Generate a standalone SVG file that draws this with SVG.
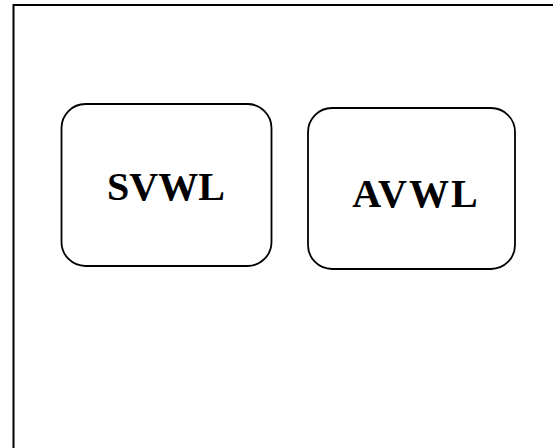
<svg xmlns="http://www.w3.org/2000/svg" width="553" height="448" viewBox="0 0 553 448">
  <style>
    .frame { fill: #ffffff; stroke: #000000; stroke-width: 2; }
    .box { fill: #ffffff; stroke: #000000; stroke-width: 1.8; }
    .label { font-family: "Liberation Serif", "Times New Roman", serif; font-weight: bold; font-size: 40px; fill: #000000; text-anchor: middle; }
  </style>
  <rect width="553" height="448" fill="#ffffff"/>
  <!-- outer frame, running off the right and bottom edges -->
  <rect class="frame" x="13.5" y="5" width="560" height="460"/>
  <g id="connectors"></g>
  <g id="svwl">
    <rect class="box" x="61.5" y="104" width="210" height="162" rx="24" ry="24"/>
    <text class="label" x="166" y="200">SVWL</text>
  </g>
  <g id="avwl">
    <rect class="box" x="308" y="108" width="207" height="161" rx="24" ry="24"/>
    <text class="label" x="416" y="207" letter-spacing="2">AVWL</text>
  </g>
</svg>
